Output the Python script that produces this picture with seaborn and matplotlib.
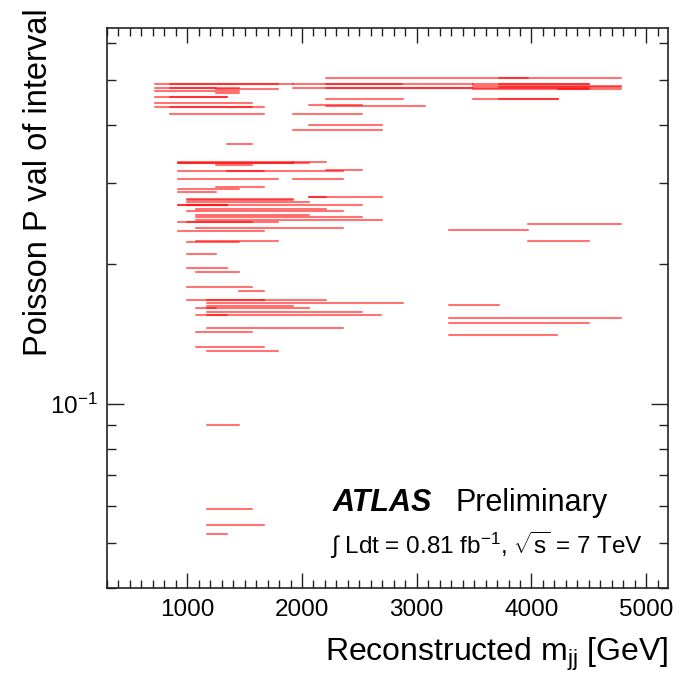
import numpy as np
import pandas as pd
import matplotlib
matplotlib.use("Agg")
import matplotlib.pyplot as plt
import matplotlib.ticker as mticker
import seaborn as sns

# p-value of each interval and its mass range [GeV]
pval = [
    0.505, 0.505, 0.490, 0.490, 0.490, 0.490, 0.490, 0.490, 0.486, 0.483,
    0.480, 0.481, 0.480, 0.480, 0.478, 0.478, 0.478, 0.472, 0.468, 0.454,
    0.454, 0.454, 0.460, 0.460, 0.445, 0.436, 0.436, 0.423, 0.364, 0.442,
    0.438, 0.423, 0.399, 0.390,
    0.332, 0.331, 0.330, 0.333, 0.327, 0.320, 0.318, 0.318, 0.306, 0.306,
    0.293, 0.290, 0.286, 0.279, 0.279, 0.277, 0.275, 0.272, 0.269, 0.268,
    0.269, 0.263, 0.260, 0.256, 0.253, 0.249, 0.247, 0.247, 0.240, 0.236,
    0.224, 0.223, 0.210, 0.196, 0.192, 0.179,
    0.175, 0.1676, 0.1676, 0.1676, 0.165, 0.1626, 0.1607, 0.1607, 0.158, 0.155,
    0.155, 0.146, 0.1426, 0.1327, 0.1296,
    0.244, 0.2365, 0.224, 0.163, 0.153, 0.149, 0.1405,
    0.090, 0.0593, 0.0547, 0.0523,
]
m_low = [
    2210, 3720, 717, 850, 1920, 2210, 3490, 3720, 3490, 3720,
    717, 850, 1920, 2210, 3490, 4230, 1250, 717, 1250, 2210,
    3490, 3720, 717, 850, 717, 717, 850, 850, 1350, 2060,
    2210, 1920, 2060, 1920,
    920, 920, 920, 1920, 1250, 2210, 920, 1350, 920, 1920,
    1250, 920, 920, 2060, 2060, 1000, 1000, 1000, 920, 1000,
    920, 1080, 1000, 1080, 1080, 1080, 920, 1000, 1080, 920,
    1080, 1000, 1000, 1000, 1080, 1000,
    1450, 1000, 1170, 1670, 1170, 1170, 1080, 1170, 1170, 1080,
    1170, 1170, 1080, 1080, 1170,
    3970, 3280, 3970, 3280, 3280, 3280, 3280,
    1170, 1170, 1170, 1170,
]
m_high = [
    4780, 3970, 1920, 1790, 3490, 2870, 4500, 4500, 4780, 4780,
    1450, 1250, 4500, 3490, 4500, 4780, 1790, 1450, 1450, 2880,
    4230, 4230, 1350, 1350, 1560, 1670, 1560, 1670, 1560, 2520,
    3070, 2520, 2700, 2700,
    1920, 1920, 2060, 2210, 1560, 2520, 2360, 1670, 1790, 2360,
    1670, 1450, 1250, 2700, 2210, 1920, 1920, 2060, 2520, 1350,
    1350, 2210, 2360, 2060, 2520, 2700, 1790, 1560, 2360, 1670,
    1790, 1450, 1250, 1350, 1450, 1560,
    1670, 1670, 1670, 2210, 2880, 1920, 2060, 1250, 2520, 2690,
    1350, 2360, 1560, 1670, 1790,
    4780, 3970, 4500, 3720, 4780, 4500, 4220,
    1450, 1560, 1670, 1350,
]

# long-form table: two points per interval, one unit per interval
rows = []
for i, (p, lo, hi) in enumerate(zip(pval, m_low, m_high)):
    rows.append({"seg": i, "mjj": lo, "pval": p})
    rows.append({"seg": i, "mjj": hi, "pval": p})
df = pd.DataFrame(rows)

sns.set_theme(style="ticks")
plt.rcParams["font.family"] = ["Liberation Sans", "DejaVu Sans"]
plt.rcParams["mathtext.fontset"] = "custom"
plt.rcParams["mathtext.rm"] = "Liberation Sans"
plt.rcParams["mathtext.it"] = "Liberation Sans:italic"
plt.rcParams["mathtext.bf"] = "Liberation Sans:bold"
plt.rcParams["text.color"] = "black"
plt.rcParams["axes.labelcolor"] = "black"

fig = plt.figure(figsize=(6.89, 6.75), dpi=100)
ax = fig.add_axes([0.1553, 0.1289, 0.8142, 0.8296])

sns.lineplot(data=df, x="mjj", y="pval", units="seg", estimator=None,
             color="red", alpha=0.55, lw=1.5, legend=False, ax=ax)

ax.set_yscale("log")
ax.set_xlim(300, 5190)
ax.set_ylim(0.04, 0.647)

ax.xaxis.set_major_locator(mticker.MultipleLocator(1000))
ax.xaxis.set_minor_locator(mticker.MultipleLocator(100))
ax.yaxis.set_major_locator(mticker.LogLocator(base=10))
ax.yaxis.set_minor_locator(mticker.LogLocator(base=10, subs=np.arange(2, 10)))
ax.yaxis.set_minor_formatter(mticker.NullFormatter())

ax.tick_params(axis="both", which="both", direction="in", top=True, right=True,
               colors="#222222", labelcolor="black", labelsize=17.5, width=1)
ax.tick_params(axis="x", which="major", length=11, pad=8)
ax.tick_params(axis="x", which="minor", length=5.5)
ax.tick_params(axis="y", which="major", length=12, pad=7)
ax.tick_params(axis="y", which="minor", length=6.5)
for s in ax.spines.values():
    s.set_linewidth(1.2)
    s.set_color("#222222")

ax.set_xlabel("")
ax.set_ylabel("")
fig.text(0.9695, 0.03, r"Reconstructed m$_{\mathregular{jj}}$ [GeV]",
         ha="right", va="center", fontsize=23)
fig.text(0.056, 0.987, "Poisson P val of interval", rotation=90,
         ha="center", va="top", fontsize=23.5)

ax.text(0.403, 0.152, "ATLAS", transform=ax.transAxes, fontsize=22,
        fontweight="bold", fontstyle="italic", va="center")
ax.text(0.622, 0.152, "Preliminary", transform=ax.transAxes, fontsize=22,
        va="center")
ax.text(0.398, 0.077, r"$\int$ Ldt = 0.81 fb$^{\mathregular{-1}}$, $\sqrt{\mathregular{s}}$ = 7 TeV",
        transform=ax.transAxes, fontsize=17.5, va="center")

fig.savefig("out.png", dpi=100)
